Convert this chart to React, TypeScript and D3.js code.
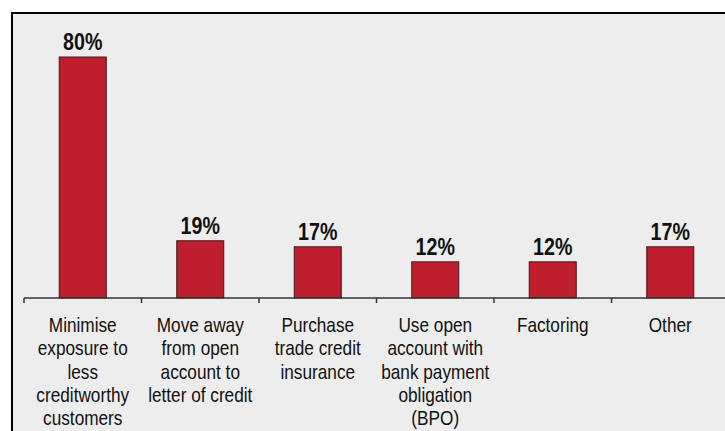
import * as d3 from 'd3';

const categories = [
  'Minimise exposure to less creditworthy customers',
  'Move away from open account to letter of credit',
  'Purchase trade credit insurance',
  'Use open account with bank payment obligation (BPO)',
  'Factoring',
  'Other',
];
// wrapped lines as printed under each bar
const categoryLines = [
  ['Minimise', 'exposure to', 'less', 'creditworthy', 'customers'],
  ['Move away', 'from open', 'account to', 'letter of credit'],
  ['Purchase', 'trade credit', 'insurance'],
  ['Use open', 'account with', 'bank payment', 'obligation', '(BPO)'],
  ['Factoring'],
  ['Other'],
];
const values = [80, 19, 17, 12, 12, 17];

const W = 725;
const H = 431;
// no narrow face installed, so squeeze Liberation Sans horizontally
const FONT = '"Liberation Sans", Arial, sans-serif';
const NARROW = 0.82;

export default function App() {
  const axisY = 298;
  const x = d3.scaleBand<string>()
    .domain(categories)
    .range([24, 729])
    .paddingInner(0.6)
    .paddingOuter(0.3);
  const y = d3.scaleLinear().domain([0, 80]).range([axisY, 57]);
  const step = x.step();
  const tickXs = categories.map((c) => (x(c) as number) - step * 0.3);
  const cx = (c: string) => (x(c) as number) + x.bandwidth() / 2;

  return (
    <svg
      width={W}
      height={H}
      style={{ position: 'absolute', left: 0, top: 0, background: '#fff' }}
    >
      {/* panel */}
      <rect x={12} y={13} width={W + 20} height={H + 20} fill="#ededed" stroke="#000" strokeWidth={2} />

      {/* bars */}
      {categories.map((c, i) => (
        <rect
          key={c}
          x={x(c)}
          y={y(values[i])}
          width={x.bandwidth()}
          height={axisY - y(values[i])}
          fill="#be1e2d"
          stroke="#3a1a1a"
          strokeWidth={1}
        />
      ))}

      {/* value labels */}
      {categories.map((c, i) => (
        <text
          key={c}
          transform={`translate(${cx(c)},${y(values[i]) - 7}) scale(${NARROW},1)`}
          textAnchor="middle"
          fontFamily={FONT}
          fontWeight="bold"
          fontSize={24}
          fill="#111"
        >
          {values[i]}%
        </text>
      ))}

      {/* x axis */}
      <line x1={24} x2={W} y1={axisY} y2={axisY} stroke="#333" strokeWidth={1.5} />
      {tickXs.map((tx, i) => (
        <line key={i} x1={tx} x2={tx} y1={axisY} y2={axisY + 5} stroke="#333" strokeWidth={1.5} />
      ))}

      {/* category labels */}
      {categories.map((c, i) => (
        <text
          key={c}
          transform={`translate(${cx(c)},332) scale(${NARROW},1)`}
          textAnchor="middle"
          fontFamily={FONT}
          fontSize={21}
          fill="#111"
        >
          {categoryLines[i].map((line, j) => (
            <tspan key={j} x={0} dy={j === 0 ? 0 : 23.3}>
              {line}
            </tspan>
          ))}
        </text>
      ))}
    </svg>
  );
}
